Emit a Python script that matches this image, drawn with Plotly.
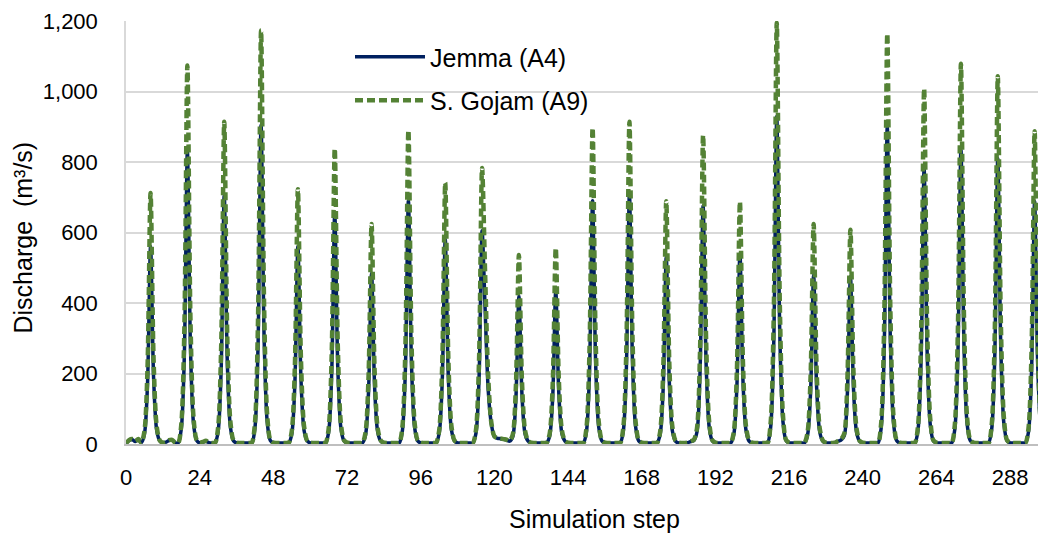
import plotly.graph_objects as go

# Monthly discharge (m3/s) per simulation step, 12 values per row (one year)
jemma = [
    2, 10, 13, 7, 13, 4, 28, 168, 560, 185, 39, 9,
    3, 5, 10, 11, 4, 3, 42, 249, 830, 274, 58, 10,
    3, 5, 8, 4, 3, 3, 35, 212, 705, 233, 49, 9,
    3, 3, 3, 3, 3, 3, 45, 272, 905, 299, 63, 10,
    3, 3, 3, 3, 3, 3, 28, 168, 560, 185, 39, 9,
    3, 3, 3, 3, 3, 3, 33, 197, 655, 216, 46, 9,
    3, 3, 3, 3, 3, 3, 24, 146, 485, 160, 34, 8,
    3, 3, 3, 3, 3, 3, 35, 207, 690, 228, 48, 9,
    3, 3, 3, 3, 3, 3, 29, 174, 580, 191, 41, 9,
    3, 3, 3, 3, 3, 3, 30, 182, 605, 380, 153, 58,
    21, 16, 15, 13, 11, 8, 21, 126, 420, 139, 29, 8,
    3, 3, 3, 3, 3, 3, 22, 131, 435, 144, 30, 8,
    3, 3, 3, 3, 3, 3, 35, 207, 690, 228, 48, 9,
    3, 3, 3, 3, 3, 3, 36, 213, 710, 234, 50, 9,
    3, 3, 3, 3, 3, 3, 27, 159, 530, 175, 37, 8,
    3, 3, 3, 4, 7, 10, 34, 203, 675, 223, 47, 9,
    3, 3, 3, 3, 3, 3, 27, 162, 540, 178, 38, 8,
    3, 3, 3, 3, 3, 3, 47, 279, 930, 307, 65, 10,
    3, 3, 3, 3, 3, 3, 24, 144, 480, 158, 34, 8,
    3, 3, 3, 4, 8, 12, 24, 143, 475, 157, 33, 8,
    3, 3, 3, 3, 3, 3, 45, 270, 900, 297, 63, 10,
    3, 3, 3, 3, 3, 3, 39, 234, 780, 257, 55, 9,
    3, 3, 3, 3, 3, 3, 42, 251, 835, 276, 58, 10,
    3, 3, 3, 3, 3, 3, 41, 243, 810, 267, 57, 10,
    3, 3, 3, 3, 3, 3, 34, 206, 688, 227, 48, 9,
]

gojam = [
    2, 11, 14, 8, 14, 4, 36, 214, 712, 235, 50, 10,
    4, 6, 11, 12, 4, 3, 54, 322, 1074, 354, 75, 12,
    4, 6, 9, 5, 3, 3, 46, 274, 914, 302, 64, 11,
    4, 3, 3, 3, 3, 4, 59, 352, 1173, 387, 82, 12,
    4, 3, 3, 3, 3, 3, 36, 217, 723, 239, 51, 10,
    4, 3, 3, 3, 3, 3, 42, 251, 838, 277, 59, 11,
    4, 3, 3, 3, 3, 3, 31, 187, 624, 206, 44, 10,
    4, 3, 3, 3, 3, 3, 45, 267, 890, 294, 62, 11,
    4, 3, 3, 3, 3, 3, 37, 222, 741, 245, 52, 10,
    4, 3, 3, 3, 3, 3, 39, 235, 783, 480, 190, 62,
    22, 17, 16, 14, 12, 9, 27, 161, 536, 177, 38, 9,
    4, 3, 3, 3, 3, 3, 28, 167, 556, 183, 39, 9,
    4, 3, 3, 3, 3, 3, 45, 269, 897, 296, 63, 11,
    4, 3, 3, 3, 3, 3, 46, 274, 914, 302, 64, 11,
    4, 3, 3, 3, 3, 3, 34, 207, 689, 227, 48, 10,
    4, 3, 3, 4, 8, 12, 44, 263, 876, 289, 61, 11,
    4, 3, 3, 3, 3, 3, 34, 206, 687, 227, 48, 10,
    4, 3, 3, 3, 3, 3, 60, 359, 1195, 394, 84, 12,
    4, 3, 3, 3, 3, 3, 31, 187, 624, 206, 44, 10,
    4, 3, 3, 4, 9, 14, 30, 182, 608, 201, 43, 9,
    4, 3, 3, 3, 3, 3, 58, 349, 1164, 384, 81, 12,
    4, 3, 3, 3, 3, 3, 50, 302, 1008, 333, 71, 11,
    4, 3, 3, 3, 3, 3, 54, 324, 1079, 356, 76, 12,
    4, 3, 3, 3, 3, 3, 52, 313, 1043, 344, 73, 11,
    4, 3, 3, 3, 3, 3, 44, 266, 887, 293, 62, 11,
]

steps = list(range(len(jemma)))
x_ticks = [0, 24, 48, 72, 96, 120, 144, 168, 192, 216, 240, 264, 288]
y_ticks = [0, 200, 400, 600, 800, 1000, 1200]

FONT = "Liberation Sans, Arial, sans-serif"

fig = go.Figure()
fig.add_trace(go.Scatter(
    x=steps, y=jemma, mode="lines", name="Jemma (A4)", legendgroup="a",
    line=dict(color="#002060", width=3.5, shape="spline", smoothing=0.8),
))
fig.add_trace(go.Scatter(
    x=steps, y=gojam, mode="lines", name="S. Gojam (A9)", legendgroup="b",
    line=dict(color="#548235", width=4.5, dash="8px,4px", shape="spline", smoothing=0.8),
))

L, W = 126, 1038
fig.update_layout(
    width=1038, height=534,
    margin=dict(l=L, r=0, t=21, b=90),
    paper_bgcolor="white", plot_bgcolor="white",
    font=dict(family=FONT, color="black"),
    showlegend=True,
    legend=dict(
        x=(350 - L) / (W - L), y=(444 - 34) / 423, xanchor="left", yanchor="top",
        bgcolor="rgba(0,0,0,0)", font=dict(size=25, family=FONT, color="black"),
        tracegroupgap=8, traceorder="grouped", itemwidth=70,
    ),
    xaxis=dict(
        range=[0, 297.1], tickmode="array", tickvals=x_ticks,
        ticktext=[str(t) for t in x_ticks],
        showgrid=False, zeroline=False, showline=True, linecolor="#bfbfbf", linewidth=1.5,
        ticks="", tickfont=dict(size=22, family=FONT, color="black"), ticklabelstandoff=13,
    ),
    yaxis=dict(
        range=[0, 1200], tickmode="array", tickvals=y_ticks,
        ticktext=[f"{t:,}" for t in y_ticks],
        showgrid=True, gridcolor="#d9d9d9", gridwidth=1.5, zeroline=False,
        showline=True, linecolor="#d9d9d9", linewidth=1.5,
        ticks="", tickfont=dict(size=22, family=FONT, color="black"), ticklabelstandoff=22,
    ),
    annotations=[
        dict(text="Simulation step", xref="paper", yref="paper",
             x=(594.5 - L) / (W - L), y=(444 - 519) / 423, xanchor="center", yanchor="middle",
             showarrow=False, font=dict(size=25, family=FONT, color="black")),
        dict(text="Discharge\u00a0 (m³/s)", xref="paper", yref="paper",
             x=(22 - L) / (W - L), y=(444 - 237.5) / 423, xanchor="center", yanchor="middle",
             textangle=-90, showarrow=False, font=dict(size=25, family=FONT, color="black")),
    ],
)

fig.write_html("out.html")
